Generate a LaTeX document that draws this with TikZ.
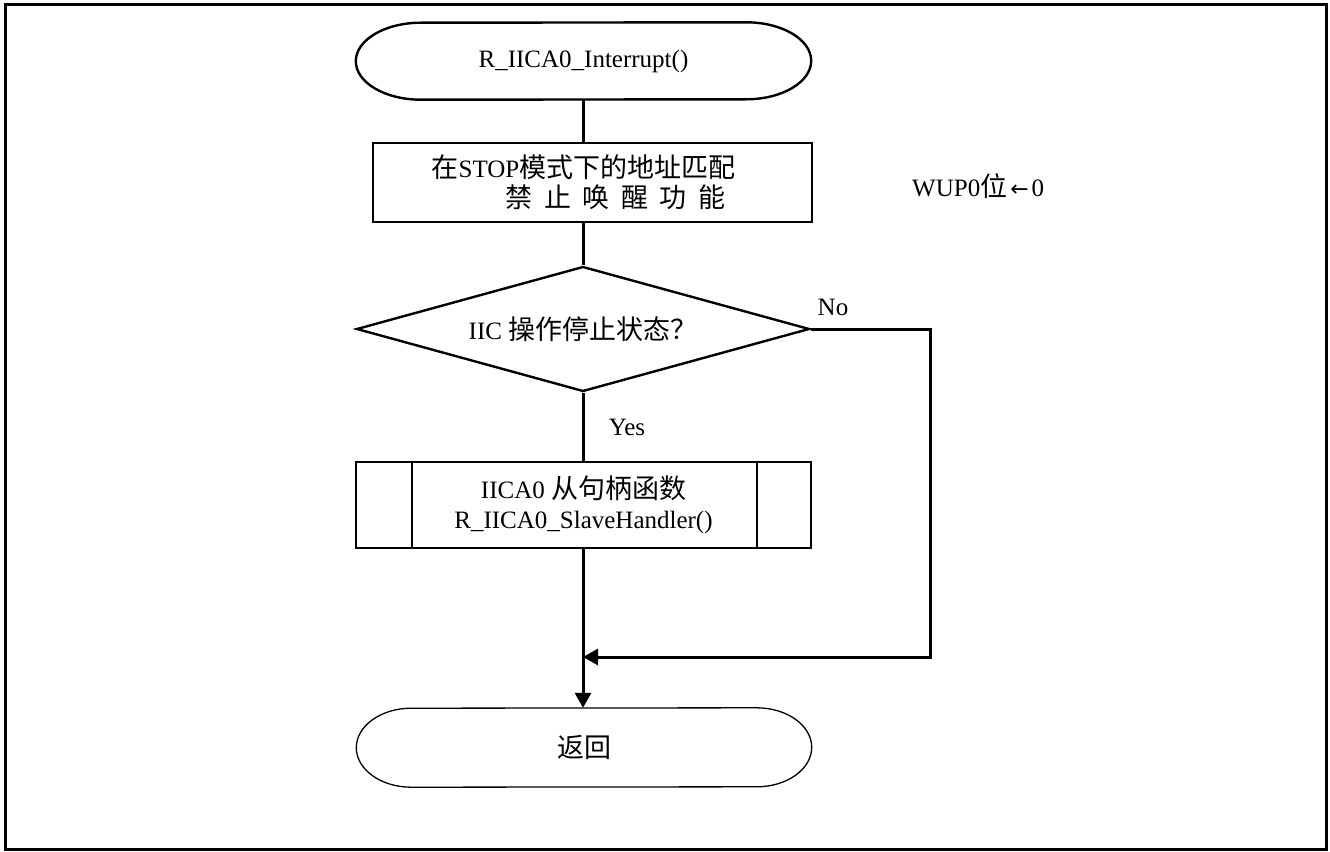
\documentclass[tikz,border=0pt]{standalone}
\usepackage{fontspec}
\setmainfont{Liberation Serif}
\newfontfamily\cjk[Scale=1.08]{Noto Sans CJK SC}
\newfontfamily\symf{DejaVu Sans}
\usetikzlibrary{arrows.meta,shapes.geometric}
\begin{document}
\begin{tikzpicture}[x=1pt,y=1pt,
  every node/.style={font=\fontsize{25}{32}\selectfont, inner sep=0pt},
  termline/.style={line width=2.4pt},
  termline2/.style={line width=1.3pt},
  procbox/.style={draw, line width=2pt, minimum width=439pt, minimum height=79pt, align=center},
  subbox/.style={draw, line width=1.6pt, minimum width=455pt, minimum height=86pt, align=center},
  decision/.style={draw, line width=2.4pt, diamond, aspect=3.62, minimum width=453pt, minimum height=125pt, inner sep=0pt},
  flow/.style={line width=3pt},
  flowarrow/.style={line width=3pt, -{Triangle[length=15pt,width=16pt]}},
  lbl/.style={anchor=west}]
\useasboundingbox (0,0) rectangle (1330,-851);
\draw[line width=3pt] (5,-5) rectangle (1326,-849);

% start terminal
\node[minimum width=455pt, minimum height=77pt] (start) at (583.5,-61) {R\_IICA0\_Interrupt()};
\draw[termline] ([xshift=-65pt]start.north east) arc[start angle=90,end angle=-90,x radius=65pt,y radius=38.5pt]
  -- ([xshift=65pt]start.south west) arc[start angle=270,end angle=90,x radius=65pt,y radius=38.5pt] -- cycle;

% process
\node[procbox] (proc) at (592.5,-182.5) {{\cjk 在}STOP{\cjk 模式下的地址匹配}\hspace*{18pt}\\[-2pt]
  \hspace*{46pt}\makebox[220pt][s]{\cjk 禁\hfill 止\hfill 唤\hfill 醒\hfill 功\hfill 能}};
\node[lbl] (wup) at (912,-186) {WUP0{\cjk 位}\hspace{3pt}{\symf\fontsize{22}{24}\selectfont ←}\hspace{3pt}0};

% decision
\node[decision] (dec) at (583,-329) {};
\node (dectext) at (583,-329) {IIC {\cjk 操作停止状态？}};
\node (no) at (833,-307) {No};
\node (yes) at (627,-427) {Yes};

% subroutine
\node[subbox] (sub) at (583.5,-505) {IICA0 {\cjk 从句柄函数}\\[-2pt]R\_IICA0\_SlaveHandler()};
\draw[line width=1.6pt] (412,-462) -- (412,-548);
\draw[line width=1.6pt] (757,-462) -- (757,-548);

% return terminal
\node[minimum width=455pt, minimum height=79pt] (ret) at (584,-747.5) {{\cjk 返回}};
\draw[termline2] ([xshift=-55pt]ret.north east) arc[start angle=90,end angle=-90,x radius=55pt,y radius=39.5pt]
  -- ([xshift=55pt]ret.south west) arc[start angle=270,end angle=90,x radius=55pt,y radius=39.5pt] -- cycle;

\coordinate (nocorner) at (930,-329);
\coordinate (merge) at (583,-657);

% connectors
\draw[flow] (start.south) -- (start.south |- proc.north);
\draw[flow] (583,-222) -- (dec.north);
\draw[flow] (dec.south) -- (sub.north -| dec.south);
\draw[flowarrow] (sub.south -| dec.south) -- (ret.north -| dec.south);
\draw[flowarrow] (dec.east) -- (nocorner) |- (merge);
\end{tikzpicture}
\end{document}
